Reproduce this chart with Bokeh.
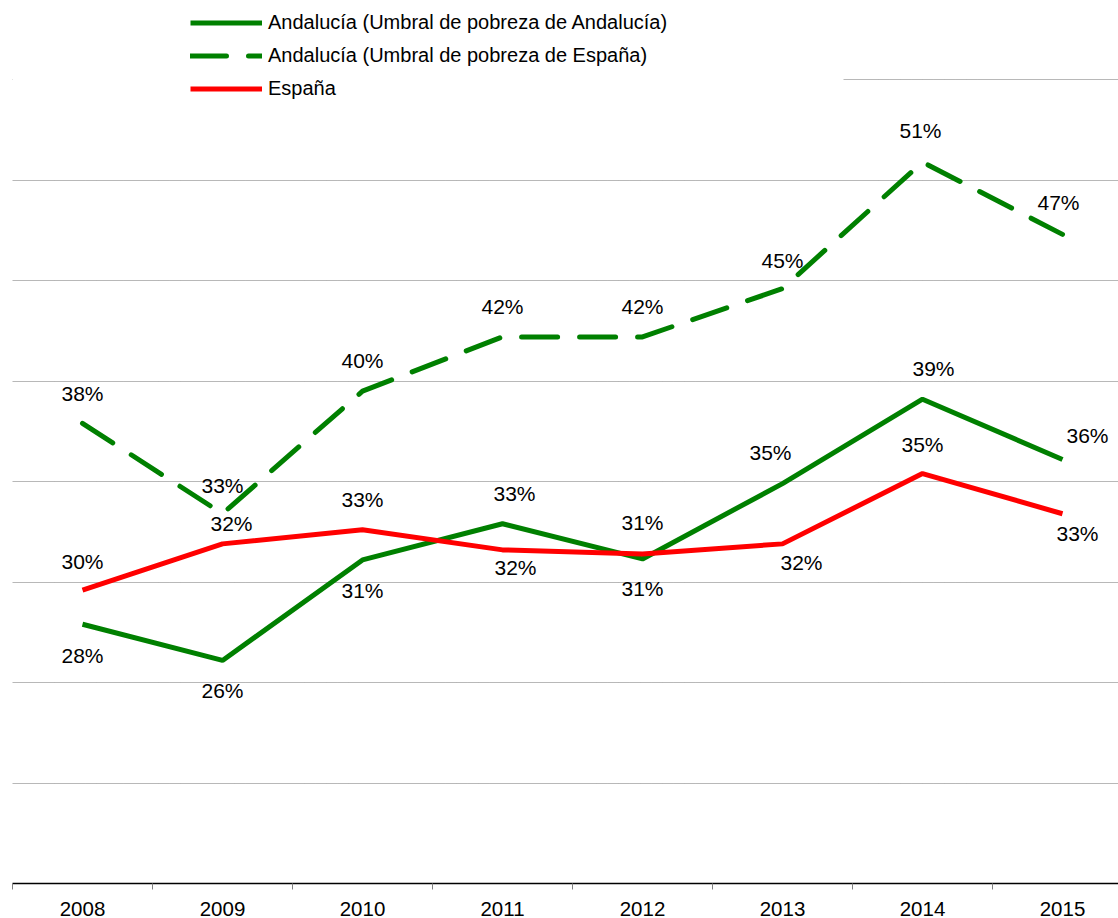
from bokeh.plotting import figure
from bokeh.models import Range1d, FixedTicker, BoxAnnotation, ColumnDataSource
from bokeh.core.properties import value
from bokeh.embed import file_html
from bokeh.resources import INLINE

years = ["2008", "2009", "2010", "2011", "2012", "2013", "2014", "2015"]
and_umbral_esp = [37.9, 33.4, 39.5, 42.2, 42.2, 44.6, 50.9, 47.3]
and_umbral_and = [27.9, 26.1, 31.1, 32.9, 31.15, 34.9, 39.1, 36.1]
espana = [29.6, 31.9, 32.6, 31.6, 31.4, 31.9, 35.4, 33.4]

# label offsets in screen pixels (dx, dy)
off_esp_dx = [0, 0, 0, 0, 0, 0, -2, -4]
off_esp_dy = [-30, -28, -31, -30, -30, -28, -32, -32]
off_and_dx = [0, 0, 0, 12, 0, -12, 11, 25]
off_and_dy = [31, 30, 31, -30, 30, -31, -31, -24]
off_spa_dx = [0, 9, 0, 13, 0, 19, 0, 15]
off_spa_dy = [-29, -20, -30, 18, -31, 19, -29, 20]

FONT = "Liberation Sans"
x = list(range(len(years)))

p = figure(width=1118, height=918, output_backend="svg", toolbar_location=None,
           x_range=Range1d(-0.5, 7.4), y_range=Range1d(15, 58.54),
           min_border_left=12, min_border_right=0, min_border_top=8, min_border_bottom=34)
p.outline_line_color = None
p.background_fill_color = "white"

p.yaxis.visible = False
p.xgrid.visible = False
p.ygrid.ticker = FixedTicker(ticks=[20, 25, 30, 35, 40, 45, 50, 55])
p.ygrid.grid_line_color = "#707070"
p.ygrid.grid_line_dash = "1 1"
p.ygrid.grid_line_width = 1

# white area behind the legend hiding part of the top gridline
p.add_layout(BoxAnnotation(right=831, right_units="screen", bottom=53,
                           fill_color="white", fill_alpha=1, line_color=None,
                           level="underlay"))

xa = p.xaxis[0]
xa.ticker = FixedTicker(ticks=x, minor_ticks=[i - 0.5 for i in x])
xa.major_label_overrides = {i: y for i, y in enumerate(years)}
xa.major_tick_line_color = None
xa.minor_tick_in = 0
xa.minor_tick_out = 6
xa.minor_tick_line_color = "#808080"
xa.axis_line_color = "black"
xa.axis_line_width = 1.5
xa.major_label_text_font = FONT
xa.major_label_text_font_size = "20.5px"
xa.major_label_text_color = "black"
xa.major_label_standoff = 12

p.line(x, and_umbral_and, line_color="#008000", line_width=5,
       legend_label="Andalucía (Umbral de pobreza de Andalucía)")
p.line(x, and_umbral_esp, line_color="#008000", line_width=5, line_dash="36 22",
       line_cap="round", legend_label="Andalucía (Umbral de pobreza de España)")
p.line(x, espana, line_color="#FF0000", line_width=5, legend_label="España")

for vals, dx, dy in [(and_umbral_esp, off_esp_dx, off_esp_dy),
                     (and_umbral_and, off_and_dx, off_and_dy),
                     (espana, off_spa_dx, off_spa_dy)]:
    src = ColumnDataSource(dict(x=x, y=vals, t=[f"{round(v)}%" for v in vals], dx=dx, dy=dy))
    p.text(x="x", y="y", text="t", x_offset="dx", y_offset="dy", source=src,
           text_font=value(FONT), text_font_size="21px", text_color="black",
           text_align="center", text_baseline="middle")

lg = p.legend[0]
lg.location = (178, 783)
lg.padding = 0
lg.margin = 0
lg.spacing = 10
lg.glyph_width = 72
lg.glyph_height = 21
lg.label_height = 21
lg.label_standoff = 6
lg.label_text_font = FONT
lg.label_text_font_size = "20px"
lg.label_text_color = "black"
lg.background_fill_alpha = 0
lg.border_line_color = None

open("out.html", "w").write(file_html(p, INLINE))
